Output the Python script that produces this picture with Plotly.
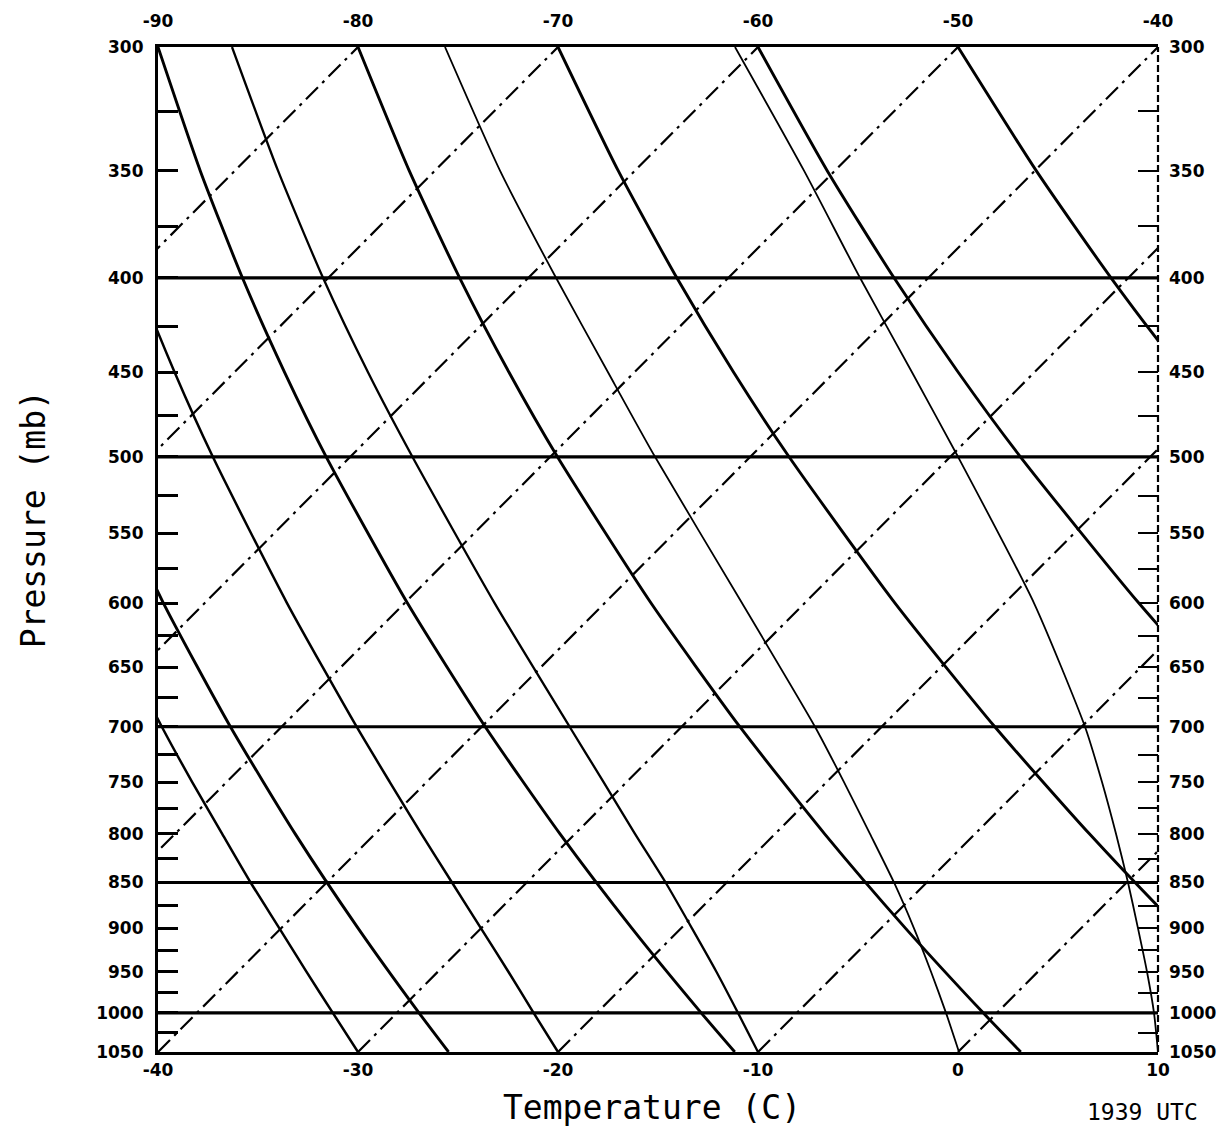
import math
import plotly.graph_objects as go

# ---------------- data ----------------
# bottom temperature scale (deg C at 1050 mb) and top scale (deg C at 300 mb)
temp_bottom_ticks = [-40, -30, -20, -10, 0, 10]
temp_top_ticks = [-90, -80, -70, -60, -50, -40]
top_axis_offset = 50  # top label = bottom label - 50 at the same horizontal position

pressure_ticks = [300, 325, 350, 375, 400, 425, 450, 475, 500, 525, 550, 575, 600,
                  625, 650, 675, 700, 725, 750, 775, 800, 825, 850, 875, 900, 925,
                  950, 975, 1000, 1025, 1050]
pressure_labels = ["300", "", "350", "", "400", "", "450", "", "500", "", "550", "",
                   "600", "", "650", "", "700", "", "750", "", "800", "", "850", "",
                   "900", "", "950", "", "1000", "", "1050"]

isobars = [400, 500, 700, 850, 1000]
isotherms = [-90, -80, -70, -60, -50, -40, -30, -20, -10, 0, 10]

# dry adiabats: position on the bottom temperature scale where each line crosses each level
dry_levels = [300, 350, 400, 450, 500, 600, 700, 800, 900, 1000, 1050]
dry_m100 = [-50.00, -48.34, -46.63, -44.91, -43.17, -39.73, -36.38, -33.14, -29.99, -26.95, -25.47]
dry_m90 = [-40.00, -37.89, -35.78, -33.67, -31.59, -27.53, -23.64, -19.90, -16.30, -12.84, -11.16]
dry_m80 = [-30.00, -27.44, -24.92, -22.45, -20.03, -15.35, -10.91, -6.67, -2.62, 1.26, 3.14]
dry_m70 = [-20.00, -16.99, -14.06, -11.22, -8.45, -3.15, 1.84, 6.57, 11.07, 15.37, 17.44]
dry_m60 = [-10.00, -6.54, -3.20, 0.01, 3.12, 9.04, 14.58, 19.81, 24.77, 29.48, 31.75]
dry_m50 = [0.00, 3.91, 7.65, 11.24, 14.69, 21.23, 27.31, 33.04, 38.45, 43.58, 46.05]

# moist (saturated) adiabats through -30, -20, -10, 0, 10 C at 1050 mb
moist_levels = [300, 350, 400, 450, 500, 600, 700, 750, 800, 850, 900, 950, 1000, 1050]
moist_m30 = [-52.66, -51.12, -49.52, -47.89, -46.25, -42.97, -39.81, -38.29, -36.79, -35.37, -33.93, -32.58, -31.26, -30.00]
moist_m20 = [-44.90, -43.00, -41.08, -39.17, -37.26, -33.55, -30.07, -28.41, -26.83, -25.30, -23.85, -22.48, -21.22, -20.00]
moist_m10 = [-36.30, -34.00, -31.75, -29.50, -27.28, -23.17, -19.42, -17.72, -16.15, -14.62, -13.30, -12.08, -11.00, -10.00]
moist_0 = [-25.65, -22.90, -20.10, -17.50, -15.15, -10.80, -7.15, -5.70, -4.40, -3.20, -2.20, -1.35, -0.60, 0.05]
moist_10 = [-11.15, -7.70, -4.90, -2.30, 0.00, 3.80, 6.35, 7.20, 7.90, 8.50, 9.00, 9.45, 9.80, 10.00]

# ---------------- figure ----------------
fig = go.Figure()
x_min, x_max = temp_bottom_ticks[0], temp_bottom_ticks[-1]
p_top, p_bot = pressure_ticks[0], pressure_ticks[-1]

# isotherms (dash-dot)
for t in isotherms:
    fig.add_trace(go.Scatter(x=[t, t + top_axis_offset], y=[p_bot, p_top], mode="lines",
                             line=dict(color="black", width=2.2, dash="17px,6px,3px,6px"),
                             hoverinfo="skip", showlegend=False))

# isobars
for p in isobars:
    fig.add_trace(go.Scatter(x=[x_min, x_max], y=[p, p], mode="lines",
                             line=dict(color="black", width=3.2),
                             hoverinfo="skip", showlegend=False))

# dry adiabats
for xs in [dry_m100, dry_m90, dry_m80, dry_m70, dry_m60, dry_m50]:
    fig.add_trace(go.Scatter(x=xs, y=dry_levels, mode="lines",
                             line=dict(color="black", width=2.9, shape="spline", smoothing=0.6),
                             hoverinfo="skip", showlegend=False))

# moist adiabats
for xs, w in [(moist_m30, 2.5), (moist_m20, 2.5), (moist_m10, 2.3), (moist_0, 1.8), (moist_10, 1.8)]:
    fig.add_trace(go.Scatter(x=xs, y=moist_levels, mode="lines",
                             line=dict(color="black", width=w, shape="spline", smoothing=0.6),
                             hoverinfo="skip", showlegend=False))

# invisible trace to activate the secondary axes
fig.add_trace(go.Scatter(x=[temp_top_ticks[0]], y=[p_top], xaxis="x2", yaxis="y2",
                         mode="markers", marker=dict(opacity=0), hoverinfo="skip", showlegend=False))

tick_font = dict(family="DejaVu Sans", size=17, color="black", weight="bold")
y_range = [math.log10(p_bot), math.log10(p_top)]

fig.update_layout(
    width=1227, height=1147,
    margin=dict(l=150, r=77, t=39, b=103),
    paper_bgcolor="white", plot_bgcolor="white",
    showlegend=False,
    xaxis=dict(range=[x_min, x_max], tickvals=temp_bottom_ticks,
               ticktext=[str(v) for v in temp_bottom_ticks],
               showgrid=False, zeroline=False, ticks="", tickfont=tick_font,
               showline=True, linecolor="black", linewidth=3.2, automargin=False,
               ticklabelstandoff=0),
    xaxis2=dict(range=[temp_top_ticks[0], temp_top_ticks[-1]], overlaying="x", side="top",
                tickvals=temp_top_ticks, ticktext=[str(v) for v in temp_top_ticks],
                showgrid=False, zeroline=False, ticks="", tickfont=tick_font,
                showline=True, linecolor="black", linewidth=3.2, automargin=False,
                ticklabelstandoff=10),
    yaxis=dict(type="log", range=y_range, tickvals=pressure_ticks, ticktext=pressure_labels,
               showgrid=False, zeroline=False, ticks="inside", ticklen=20, tickwidth=2.8,
               tickcolor="black", tickfont=tick_font, showline=True, linecolor="black",
               linewidth=3.2, automargin=False, ticklabelstandoff=8),
    yaxis2=dict(type="log", range=y_range, overlaying="y", side="right",
                tickvals=pressure_ticks, ticktext=pressure_labels,
                showgrid=False, zeroline=False, ticks="inside", ticklen=20, tickwidth=2.4,
                tickcolor="black", tickfont=tick_font, showline=False, automargin=False,
                ticklabelstandoff=10),
    shapes=[dict(type="line", xref="paper", yref="paper", x0=1, x1=1, y0=0, y1=1,
                 line=dict(color="black", width=2.2, dash="7px,3px"))],
    annotations=[
        dict(text="Pressure (mb)", xref="paper", yref="paper", x=-0.125, y=0.530,
             textangle=-90, showarrow=False, xanchor="center", yanchor="middle",
             font=dict(family="DejaVu Sans Mono", size=33, color="black")),
        dict(text="Temperature (C)", xref="paper", yref="paper", x=0.494, y=-0.055,
             showarrow=False, xanchor="center", yanchor="middle",
             font=dict(family="DejaVu Sans Mono", size=33, color="black")),
        dict(text="1939 UTC", xref="paper", yref="paper", x=1.042, y=-0.060,
             showarrow=False, xanchor="right", yanchor="middle",
             font=dict(family="DejaVu Sans Mono", size=23, color="black")),
    ],
)

fig.write_html("out.html")
